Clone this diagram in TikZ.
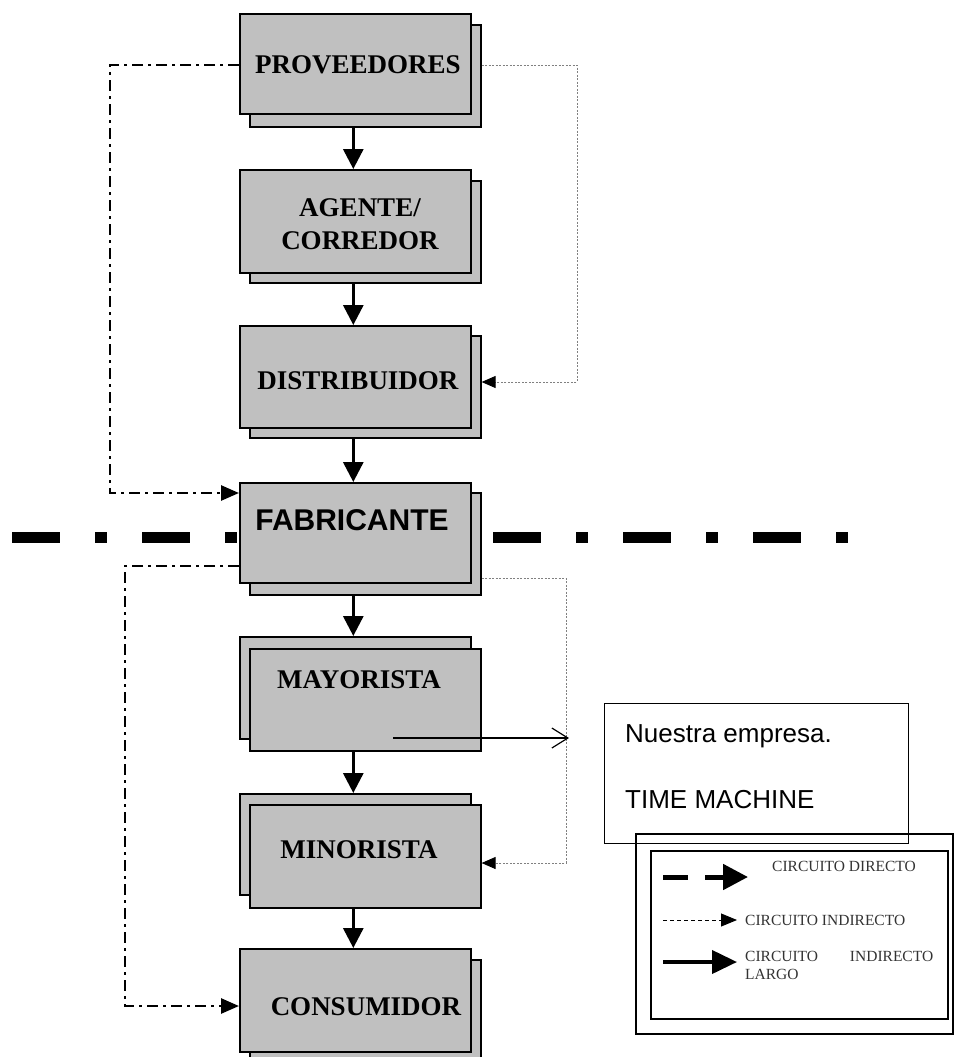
\documentclass[tikz,border=0pt]{standalone}
\usepackage{fontspec}
\setmainfont{Liberation Serif}
\newfontfamily\arialf{Liberation Sans}
\usetikzlibrary{arrows.meta,calc}
\definecolor{boxgray}{RGB}{192,192,192}
\begin{document}
\begin{tikzpicture}[x=1pt,y=-1pt,
  box/.style={draw=black,fill=boxgray,line width=1.6pt,inner sep=0pt,anchor=north west,minimum width=231pt},
  lbl/.style={font=\fontsize{27}{33}\selectfont\bfseries,inner sep=0pt,align=center},
  mainarr/.style={line width=3pt,-{Triangle[width=20pt,length=20pt]}},
  dashdot/.style={line width=2.6pt,dash pattern=on 11pt off 5pt on 3pt off 5pt,-{Triangle[width=15pt,length=18pt]}},
  dotline/.style={draw=gray,line width=0.9pt,dash pattern=on 2pt off 1.5pt,-{Triangle[width=12pt,length=14pt,color=black]}},
  sepline/.style={line width=11pt,dash pattern=on 48pt off 35pt on 12pt off 35pt},
  legtxt/.style={font=\fontsize{15.5}{18}\selectfont,text=black!80,inner sep=0pt,anchor=west},
  plainbox/.style={draw=black,inner sep=0pt,anchor=north west}
]
\useasboundingbox (0,0) rectangle (954,1057);

% boxes (shadow / back box first)
\node[box,minimum height=102pt] (provS) at (249,24) {};
\node[box,minimum height=100pt] (prov) at (239,13) {};
\node[box,minimum height=102pt] (agenteS) at (249,180) {};
\node[box,minimum height=103pt] (agente) at (239,169) {};
\node[box,minimum height=102pt] (distS) at (249,335) {};
\node[box,minimum height=102pt] (dist) at (239,325) {};
\node[box,minimum height=102pt] (fabS) at (249,492) {};
\node[box,minimum height=100pt] (fab) at (239,482) {};
\node[box,minimum height=102pt] (mayoB) at (239,636) {};
\node[box,minimum height=102pt] (mayo) at (249,648) {};
\node[box,minimum height=101pt] (minoB) at (239,793) {};
\node[box,minimum height=103pt] (mino) at (249,804) {};
\node[box,minimum height=101pt] (consS) at (249,959) {};
\node[box,minimum height=103pt] (cons) at (239,948) {};

% labels
\node[lbl] (provT) at (358,65) {PROVEEDORES};
\node[lbl] (agenteT) at (360,224) {AGENTE/\\CORREDOR};
\node[lbl] (distT) at (358,381) {DISTRIBUIDOR};
\node[lbl,font=\arialf\fontsize{30}{36}\selectfont\bfseries] (fabT) at (352,520) {FABRICANTE};
\node[lbl] (mayoT) at (359,680) {MAYORISTA};
\node[lbl] (minoT) at (359,850) {MINORISTA};
\node[lbl] (consT) at (366,1007) {CONSUMIDOR};

% main arrows
\draw[mainarr] ($(prov.south |- provS.south)+(-2,0)$) -- ($(agente.north)+(-2,0)$);
\draw[mainarr] ($(agente.south |- agenteS.south)+(-2,0)$) -- ($(dist.north)+(-2,0)$);
\draw[mainarr] ($(dist.south |- distS.south)+(-2,0)$) -- ($(fab.north)+(-2,0)$);
\draw[mainarr] ($(fab.south |- fabS.south)+(-2,0)$) -- ($(mayoB.north)+(-2,0)$);
\draw[mainarr] ($(minoB.north |- mayo.south)+(-2,0)$) -- ($(minoB.north)+(-2,0)$);
\draw[mainarr] ($(cons.north |- mino.south)+(-2,0)$) -- ($(cons.north)+(-2,0)$);

% dash-dot connectors (left)
\coordinate (l1) at (110,65);
\coordinate (l2) at (110,493);
\draw[dashdot] (prov.west |- l1) -- (l1) -- (l2) -- (fab.west |- l2);
\coordinate (l3) at (125,566);
\coordinate (l4) at (125,1006);
\draw[dashdot] (fab.west |- l3) -- (l3) -- (l4) -- (cons.west |- l4);

% dotted connectors (right)
\coordinate (r1) at (577,65);
\coordinate (r2) at (577,382);
\draw[dotline] (provS.east |- r1) -- (r1) -- (r2) -- (distS.east |- r2);
\coordinate (r3) at (566,578);
\coordinate (r4) at (566,863);
\draw[dotline] (fabS.east |- r3) -- (r3) -- (r4) -- (mino.east |- r4);

% separator line
\draw[sepline] (12,537) -- (237,537);
\draw[sepline] (493,537) -- (849,537);

% pointer to our company
\coordinate (n1) at (393,738);
\coordinate (n2) at (569,738);
\draw[line width=1.2pt,-{Straight Barb[length=16pt,width=20pt]}] (n1) -- (n2);

% Nuestra empresa box
\node[plainbox,line width=1.2pt,minimum width=304pt,minimum height=140pt] (nuestra) at (604,703) {};
\node[anchor=base west,inner sep=0pt,font=\arialf\fontsize{26}{30}\selectfont] (nuestraT1) at (625,742) {Nuestra empresa.};
\node[anchor=base west,inner sep=0pt,font=\arialf\fontsize{26}{30}\selectfont] (nuestraT2) at (625,808) {TIME MACHINE};

% legend
\node[plainbox,line width=2pt,minimum width=317pt,minimum height=200pt] (legO) at (635,833) {};
\node[plainbox,line width=1.5pt,minimum width=297pt,minimum height=168pt] (legI) at (650,850) {};
\draw[line width=5pt,dash pattern=on 25pt off 17pt on 200pt,-{Triangle[width=25pt,length=25pt]}] (663,877) -- (748,877);
\node[legtxt] (leg1) at (772,866) {CIRCUITO DIRECTO};
\draw[line width=0.9pt,dash pattern=on 4pt off 3pt,-{Triangle[width=13pt,length=16pt]}] (663,920) -- (737,920);
\node[legtxt] (leg2) at (745,920) {CIRCUITO INDIRECTO};
\draw[line width=4pt,-{Triangle[width=23pt,length=25pt]}] (663,962) -- (737,962);
\node[legtxt,anchor=north west,align=left] (leg3) at (745,951) {\makebox[188pt][s]{CIRCUITO INDIRECTO}\\LARGO};
\end{tikzpicture}
\end{document}
